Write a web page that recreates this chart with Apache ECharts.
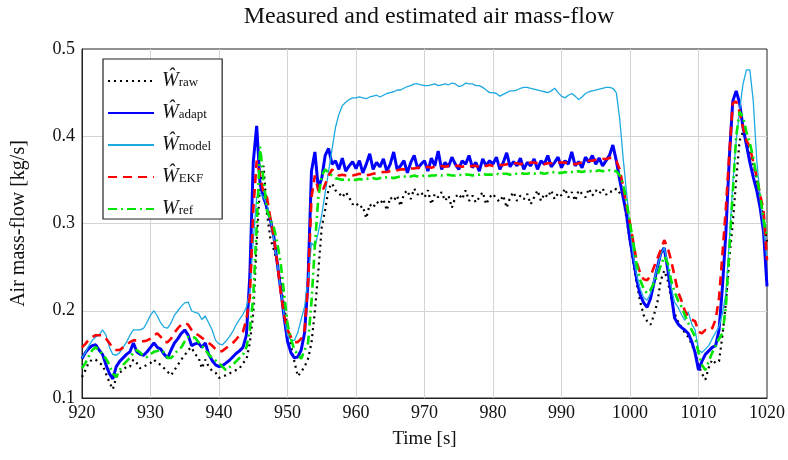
<!DOCTYPE html>
<html>
<head>
<meta charset="utf-8">
<script src="https://cdn.jsdelivr.net/npm/echarts@6/dist/echarts.min.js"></script>
<style>html,body{margin:0;padding:0;background:#fff}#c{width:788px;height:460px}</style>
</head>
<body>
<div id="c"></div>
<script>
// sampling grid: 920 s to 1020 s every 0.5 s
var tStart = 920, tStep = 0.5;
var xTicks = [920, 930, 940, 950, 960, 970, 980, 990, 1000, 1010, 1020];
var yTicks = [0.1, 0.2, 0.3, 0.4, 0.5];

var rawVals = [
0.124,0.132,0.141,0.144,0.144,0.140,0.138,0.128,0.118,0.110,
0.124,0.129,0.132,0.136,0.136,0.144,0.140,0.134,0.136,0.138,
0.140,0.144,0.140,0.138,0.134,0.130,0.126,0.132,0.138,0.144,
0.149,0.155,0.158,0.150,0.147,0.134,0.144,0.136,0.131,0.129,
0.123,0.125,0.126,0.128,0.130,0.132,0.134,0.140,0.144,0.163,
0.197,0.278,0.345,0.366,0.312,0.283,0.270,0.256,0.232,0.205,
0.180,0.160,0.142,0.125,0.130,0.136,0.145,0.163,0.200,0.245,
0.296,0.316,0.340,0.346,0.338,0.335,0.330,0.336,0.330,0.322,
0.324,0.318,0.320,0.306,0.322,0.318,0.325,0.322,0.328,0.315,
0.330,0.326,0.332,0.320,0.334,0.338,0.328,0.340,0.333,0.336,
0.330,0.338,0.322,0.334,0.330,0.336,0.326,0.332,0.318,0.330,
0.334,0.328,0.338,0.326,0.332,0.324,0.330,0.336,0.322,0.330,
0.334,0.328,0.325,0.332,0.318,0.330,0.336,0.326,0.332,0.328,
0.334,0.322,0.330,0.338,0.326,0.334,0.330,0.338,0.328,0.335,
0.332,0.340,0.330,0.336,0.326,0.338,0.334,0.330,0.340,0.332,
0.338,0.334,0.340,0.333,0.337,0.336,0.340,0.335,0.330,0.305,
0.280,0.255,0.230,0.210,0.195,0.188,0.184,0.195,0.210,0.235,
0.246,0.235,0.215,0.197,0.188,0.181,0.175,0.170,0.162,0.152,
0.138,0.128,0.121,0.135,0.144,0.140,0.142,0.172,0.210,0.260,
0.300,0.350,0.395,0.405,0.392,0.380,0.368,0.350,0.328,0.305,
0.278];

var adaptVals = [
0.145,0.152,0.157,0.160,0.161,0.155,0.150,0.138,0.128,0.122,
0.136,0.142,0.146,0.150,0.153,0.163,0.153,0.150,0.149,0.153,
0.158,0.163,0.158,0.156,0.150,0.146,0.155,0.163,0.168,0.174,
0.178,0.172,0.160,0.162,0.163,0.158,0.163,0.150,0.143,0.138,
0.136,0.137,0.140,0.143,0.147,0.151,0.154,0.158,0.172,0.240,
0.370,0.412,0.345,0.330,0.318,0.304,0.285,0.255,0.225,0.193,
0.165,0.152,0.146,0.147,0.155,0.175,0.235,0.360,0.382,0.340,
0.352,0.378,0.386,0.368,0.372,0.362,0.375,0.360,0.366,0.371,
0.363,0.372,0.358,0.368,0.380,0.362,0.370,0.365,0.374,0.360,
0.368,0.382,0.362,0.366,0.372,0.358,0.370,0.378,0.363,0.368,
0.372,0.360,0.375,0.366,0.383,0.362,0.370,0.365,0.376,0.368,
0.362,0.372,0.368,0.378,0.364,0.370,0.360,0.374,0.366,0.372,
0.368,0.376,0.362,0.370,0.381,0.365,0.371,0.366,0.375,0.362,
0.370,0.366,0.374,0.362,0.372,0.368,0.378,0.365,0.370,0.376,
0.364,0.372,0.368,0.382,0.366,0.371,0.364,0.376,0.370,0.378,
0.368,0.375,0.366,0.372,0.378,0.390,0.372,0.350,0.330,0.310,
0.281,0.258,0.235,0.218,0.209,0.204,0.214,0.232,0.250,0.266,
0.272,0.248,0.220,0.192,0.185,0.181,0.178,0.174,0.165,0.152,
0.132,0.142,0.150,0.154,0.158,0.160,0.178,0.228,0.290,0.375,
0.440,0.452,0.438,0.410,0.390,0.370,0.353,0.338,0.318,0.290,
0.228];

var modelVals = [
0.146,0.152,0.160,0.166,0.170,0.172,0.178,0.172,0.158,0.150,
0.149,0.152,0.158,0.164,0.172,0.178,0.178,0.178,0.180,0.187,
0.195,0.200,0.194,0.186,0.181,0.180,0.186,0.195,0.200,0.205,
0.209,0.210,0.200,0.198,0.197,0.190,0.194,0.186,0.178,0.166,
0.162,0.161,0.165,0.170,0.176,0.184,0.190,0.196,0.204,0.222,
0.280,0.330,0.335,0.330,0.322,0.305,0.282,0.255,0.225,0.195,
0.172,0.166,0.166,0.175,0.190,0.205,0.235,0.278,0.273,0.290,
0.310,0.335,0.360,0.385,0.410,0.425,0.435,0.439,0.442,0.444,
0.444,0.445,0.444,0.443,0.445,0.446,0.447,0.445,0.447,0.449,
0.450,0.451,0.453,0.453,0.455,0.457,0.458,0.460,0.460,0.459,
0.458,0.458,0.459,0.460,0.458,0.459,0.460,0.459,0.461,0.460,
0.457,0.458,0.461,0.460,0.460,0.458,0.458,0.456,0.453,0.450,
0.450,0.449,0.446,0.448,0.450,0.452,0.452,0.453,0.455,0.456,
0.456,0.455,0.454,0.453,0.452,0.451,0.450,0.452,0.455,0.450,
0.446,0.444,0.447,0.449,0.446,0.442,0.445,0.449,0.451,0.452,
0.453,0.454,0.455,0.456,0.456,0.455,0.450,0.420,0.375,0.335,
0.296,0.262,0.240,0.225,0.215,0.212,0.220,0.235,0.250,0.265,
0.272,0.255,0.228,0.210,0.204,0.196,0.189,0.199,0.185,0.178,
0.155,0.152,0.156,0.160,0.168,0.175,0.182,0.197,0.220,0.280,
0.345,0.395,0.430,0.460,0.476,0.476,0.440,0.373,0.330,0.295,
0.258];

var ekfVals = [
0.158,0.162,0.167,0.170,0.172,0.172,0.172,0.168,0.163,0.157,
0.155,0.155,0.158,0.161,0.164,0.166,0.166,0.165,0.165,0.166,
0.168,0.172,0.174,0.170,0.164,0.164,0.168,0.175,0.180,0.184,
0.186,0.184,0.178,0.174,0.172,0.169,0.166,0.163,0.160,0.156,
0.153,0.154,0.157,0.160,0.163,0.167,0.172,0.176,0.190,0.216,
0.315,0.372,0.355,0.335,0.330,0.306,0.285,0.255,0.222,0.195,
0.178,0.170,0.164,0.164,0.168,0.178,0.230,0.330,0.355,0.338,
0.335,0.345,0.355,0.362,0.358,0.355,0.356,0.355,0.355,0.355,
0.356,0.357,0.356,0.355,0.356,0.357,0.358,0.358,0.359,0.359,
0.360,0.361,0.361,0.362,0.362,0.363,0.363,0.363,0.364,0.364,
0.364,0.365,0.364,0.365,0.365,0.366,0.365,0.366,0.366,0.366,
0.366,0.365,0.366,0.365,0.366,0.366,0.365,0.366,0.366,0.367,
0.366,0.366,0.367,0.367,0.368,0.368,0.369,0.369,0.368,0.369,
0.369,0.370,0.370,0.369,0.368,0.368,0.369,0.369,0.370,0.370,
0.370,0.370,0.369,0.369,0.368,0.369,0.370,0.371,0.372,0.372,
0.373,0.373,0.374,0.374,0.375,0.375,0.372,0.362,0.342,0.320,
0.300,0.278,0.255,0.243,0.236,0.235,0.240,0.250,0.260,0.270,
0.281,0.272,0.258,0.240,0.222,0.212,0.200,0.193,0.190,0.188,
0.176,0.174,0.178,0.177,0.180,0.190,0.215,0.265,0.318,0.380,
0.438,0.440,0.428,0.410,0.395,0.388,0.370,0.353,0.333,0.315,
0.258];

var refVals = [
0.134,0.140,0.148,0.155,0.158,0.155,0.150,0.145,0.138,0.128,
0.124,0.132,0.138,0.142,0.146,0.152,0.155,0.152,0.148,0.147,
0.150,0.153,0.154,0.155,0.152,0.146,0.146,0.150,0.155,0.158,
0.165,0.170,0.170,0.169,0.164,0.160,0.155,0.150,0.146,0.143,
0.140,0.136,0.132,0.135,0.138,0.142,0.146,0.150,0.158,0.178,
0.216,0.296,0.388,0.350,0.315,0.305,0.296,0.278,0.255,0.220,
0.185,0.168,0.155,0.150,0.145,0.155,0.163,0.210,0.275,0.330,
0.355,0.362,0.358,0.355,0.352,0.351,0.350,0.351,0.350,0.350,
0.350,0.351,0.350,0.351,0.352,0.352,0.351,0.352,0.352,0.353,
0.353,0.352,0.353,0.354,0.354,0.353,0.354,0.355,0.354,0.354,
0.355,0.354,0.355,0.355,0.356,0.355,0.355,0.356,0.355,0.355,
0.356,0.355,0.356,0.356,0.355,0.356,0.356,0.357,0.356,0.356,
0.356,0.357,0.356,0.357,0.357,0.356,0.357,0.357,0.358,0.357,
0.357,0.358,0.357,0.358,0.358,0.357,0.358,0.358,0.359,0.358,
0.358,0.359,0.358,0.359,0.359,0.360,0.359,0.360,0.360,0.360,
0.360,0.361,0.360,0.361,0.361,0.360,0.360,0.355,0.345,0.325,
0.300,0.278,0.252,0.235,0.225,0.220,0.224,0.232,0.240,0.252,
0.262,0.255,0.235,0.222,0.212,0.205,0.195,0.186,0.178,0.170,
0.152,0.138,0.132,0.142,0.152,0.160,0.168,0.174,0.205,0.270,
0.335,0.400,0.428,0.422,0.405,0.392,0.375,0.353,0.332,0.305,
0.285];

var seriesNames = ['raw', 'adapt', 'model', 'EKF', 'ref'];
var legendLabels = {
  raw: '{w|Ŵ}{s|raw}',
  adapt: '{w|Ŵ}{s|adapt}',
  model: '{w|Ŵ}{s|model}',
  EKF: '{w|Ŵ}{s|EKF}',
  ref: '{w|W}{s|ref}'
};

function pairs(vals) {
  var out = [];
  for (var i = 0; i < vals.length; i++) out.push([tStart + i * tStep, vals[i]]);
  return out;
}

var serif = '"Liberation Serif", "DejaVu Serif", serif';
var chart = echarts.init(document.getElementById('c'), null, {renderer: 'canvas'});
chart.setOption({
  animation: false,
  backgroundColor: '#fff',
  title: {
    text: 'Measured and estimated air mass-flow',
    left: 424, top: 0, textAlign: 'center',
    textStyle: {fontFamily: serif, fontSize: 24, fontWeight: 'normal', color: '#111'}
  },
  grid: {left: 82, top: 49, width: 685, height: 349, show: true, borderColor: '#222', borderWidth: 1, backgroundColor: '#fff'},
  legend: {
    orient: 'vertical', left: 103, top: 59,
    padding: [12, 11, 0, 4],
    itemGap: 12, itemWidth: 46, itemHeight: 16,
    backgroundColor: '#fff', borderColor: '#222', borderWidth: 1.2,
    data: seriesNames,
    itemStyle: {opacity: 0},
    formatter: function (n) { return legendLabels[n]; },
    textStyle: {
      fontFamily: serif, color: '#111',
      rich: {
        w: {fontFamily: serif, fontSize: 20, fontStyle: 'italic', color: '#111', verticalAlign: 'middle', lineHeight: 16, padding: [0, 0, 0, 3]},
        s: {fontFamily: serif, fontSize: 13, color: '#111', lineHeight: 9, verticalAlign: 'bottom'}
      }
    }
  },
  xAxis: {
    type: 'value', min: xTicks[0], max: xTicks[xTicks.length - 1], interval: 10,
    name: 'Time [s]', nameLocation: 'middle', nameGap: 32,
    nameTextStyle: {fontFamily: serif, fontSize: 19, color: '#111'},
    axisLine: {show: true, lineStyle: {color: '#222', width: 1}},
    axisTick: {show: false},
    axisLabel: {fontFamily: serif, fontSize: 18, color: '#111', margin: 6, formatter: function (v) { return String(v); }},
    splitLine: {show: true, showMinLine: false, showMaxLine: false, lineStyle: {color: '#d4d4d4', width: 1}}
  },
  yAxis: {
    type: 'value', min: yTicks[0], max: yTicks[yTicks.length - 1], interval: 0.1,
    name: 'Air mass-flow [kg/s]', nameLocation: 'middle', nameGap: 53, nameRotate: 90,
    nameTextStyle: {fontFamily: serif, fontSize: 20, color: '#111'},
    axisLine: {show: true, lineStyle: {color: '#222', width: 1}},
    axisTick: {show: false},
    axisLabel: {fontFamily: serif, fontSize: 18, color: '#111', margin: 7, formatter: function (v) { return v.toFixed(1); }},
    splitLine: {show: true, showMinLine: false, showMaxLine: false, lineStyle: {color: '#d4d4d4', width: 1}}
  },
  series: [
    {name: 'raw', type: 'line', data: pairs(rawVals), showSymbol: false, symbol: 'none',
     lineStyle: {color: '#000', width: 2.2, type: [2, 4], cap: 'butt'}, itemStyle: {color: '#000'}},
    {name: 'adapt', type: 'line', data: pairs(adaptVals), showSymbol: false, symbol: 'none',
     lineStyle: {color: '#0000ff', width: 3}, itemStyle: {color: '#0000ff'}},
    {name: 'model', type: 'line', data: pairs(modelVals), showSymbol: false, symbol: 'none',
     lineStyle: {color: '#1ea9e1', width: 1.3}, itemStyle: {color: '#1ea9e1'}},
    {name: 'EKF', type: 'line', data: pairs(ekfVals), showSymbol: false, symbol: 'none',
     lineStyle: {color: '#ff0000', width: 2.6, type: [9, 6]}, itemStyle: {color: '#ff0000'}},
    {name: 'ref', type: 'line', data: pairs(refVals), showSymbol: false, symbol: 'none',
     lineStyle: {color: '#00e600', width: 2.6, type: [9, 4, 2, 4]}, itemStyle: {color: '#00e600'}}
  ]
});
</script>
</body>
</html>
